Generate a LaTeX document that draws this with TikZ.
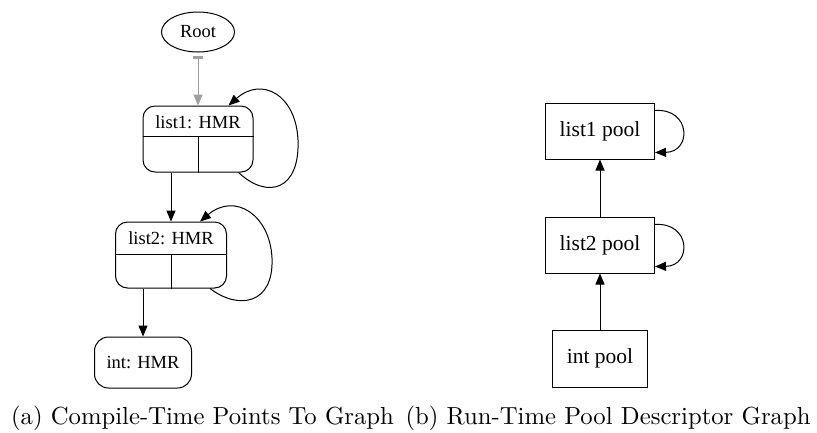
\documentclass[tikz,border=0pt]{standalone}
\usepackage{fontspec}
\newfontfamily\tms{Liberation Serif}
\usetikzlibrary{shapes.geometric,arrows.meta,calc}
\begin{document}
\begin{tikzpicture}[x=1pt,y=-1pt,
  every path/.style={line width=1pt},
  lbl/.style={font=\tms\fontsize{18.5}{20}\selectfont,inner sep=0},
  plbl/.style={font=\tms\fontsize{21.5}{24}\selectfont,inner sep=0},
  rec/.style={draw,rounded corners=12pt,inner sep=0},
  pool/.style={draw,inner sep=0},
  arr/.style={-{Triangle[length=11pt,width=9pt]}},
  captxt/.style={font=\fontsize{10}{12}\selectfont,inner sep=0,scale=2.47}]
\useasboundingbox (0,0) rectangle (817,432);
% ---- (a)
\node[draw,ellipse,minimum width=73pt,minimum height=40pt,inner sep=0,lbl] (root) at (198,32) {Root};
\node[rec,minimum width=110pt,minimum height=66pt] (l1) at (198,139) {};
\node[lbl] (l1t) at (198,122) {list1: HMR};
\draw ($(l1.north west)+(0,31)$) -- ($(l1.north east)+(0,31)$);
\draw ($(l1.north)+(0,31)$) -- (l1.south);
\node[rec,minimum width=111pt,minimum height=66pt] (l2) at (171,255) {};
\node[lbl] (l2t) at (171,238.5) {list2: HMR};
\draw ($(l2.north west)+(0,33)$) -- ($(l2.north east)+(0,33)$);
\draw ($(l2.north)+(0,33)$) -- (l2.south);
\node[rec,rounded corners=14pt,minimum width=97pt,minimum height=51pt,lbl] (int) at (143,362.5) {int: HMR};
\draw[gray!75,{Rectangle[length=3pt,width=10pt]}-{Triangle[length=11pt,width=9pt]}] ($(root.south)+(0,3)$) -- (l1.north);
\draw[arr] (l2.north |- l1.south) -- (l2.north);
\draw[arr] (int.north |- l2.south) -- (int.north);
\draw[arr] ($(l1.south east)+(-15,0)$) .. controls (268,200) and (300,190) .. (298,140) .. controls (296,95) and (262,76) .. ($(l1.north east)+(-25,0)$);
\draw[arr] ($(l2.south east)+(-17,0)$) .. controls (238,310) and (274,305) .. (272,258) .. controls (270,215) and (235,192) .. ($(l2.north east)+(-27,0)$);
% ---- (b)
\node[pool,minimum width=109pt,minimum height=56pt,plbl] (p1) at (600,131) {list1 pool};
\node[pool,minimum width=109pt,minimum height=56pt,plbl] (p2) at (600,245) {list2 pool};
\node[pool,minimum width=95pt,minimum height=57pt,plbl] (p3) at (600,358.5) {int pool};
\draw[arr] (p3.north) -- (p2.south);
\draw[arr] (p2.north) -- (p1.south);
\draw[arr] ($(p1.north east)+(0,8)$) .. controls (691,108) and (692,152) .. ($(p1.south east)+(0,-7)$);
\draw[arr] ($(p2.north east)+(0,8)$) .. controls (691,222) and (692,266) .. ($(p2.south east)+(0,-7)$);
% captions
\node[captxt] (ca) at (202.5,418.5) {(a) Compile-Time Points To Graph};
\node[captxt] (cb) at (608,418.5) {(b) Run-Time Pool Descriptor Graph};
\end{tikzpicture}
\end{document}
